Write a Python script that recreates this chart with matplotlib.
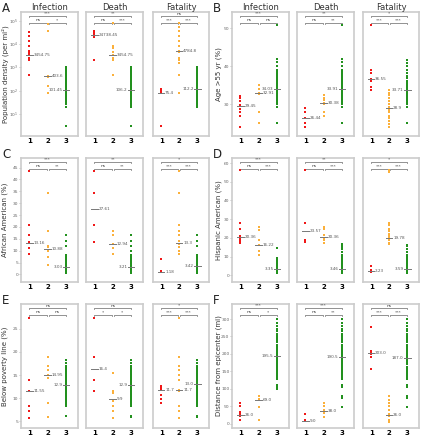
import matplotlib.pyplot as plt
from matplotlib.transforms import blended_transform_factory

# ---- data ----
groups = [1, 2, 3]
columns = ["Infection", "Death", "Fatality"]

# A: population density (per mi^2), log scale
a_inf = [[34600, 21700, 13500, 8300, 5000, 4270, 3450, 2570, 2040, 457],
         [72000, 37000, 410, 390, 160, 81],
         [1000, 850, 700, 600, 500, 450, 400, 350, 300, 280, 250, 220, 200, 180, 170,
          160, 150, 140, 130, 120, 110, 101, 95, 90, 85, 80, 75, 70, 65, 60, 55, 50,
          45, 40, 35, 30, 25, 20, 3]]
a_dea = [[38000, 30000, 24700, 21000, 2040],
         [79000, 8300, 6600, 4700, 3450, 2600, 2000, 460],
         [1000, 900, 750, 620, 520, 460, 400, 340, 300, 270, 240, 210, 190, 175, 160,
          150, 140, 130, 120, 112, 106, 100, 95, 88, 82, 76, 70, 64, 58, 52, 47, 42,
          37, 32, 27, 22, 19, 3]]
a_fat = [[120, 100, 87, 75, 3],
         [79000, 56000, 35000, 22000, 13500, 8300, 5000, 4780, 2600, 2000, 1480, 460, 78],
         [1000, 880, 720, 610, 520, 450, 390, 340, 300, 270, 240, 215, 195, 175, 160,
          148, 136, 125, 116, 112, 106, 100, 94, 88, 82, 76, 70, 64, 58, 52, 46, 41,
          36, 31, 26, 21, 19]]
a_means = [[3454.75, 403.6, 101.45], [24738.45, 3454.75, 106.2], [75.4, 4784.8, 112.2]]
a_sig = [["***", "ns", "*"], ["**", "ns", "***"], ["ns", "***", "***"]]

# B: age > 55 yr (%)
b_inf = [[32.2, 31.5, 30.9, 29.7, 29.4, 28.7, 27.8, 26.8, 24.1],
         [35.0, 33.9, 32.9, 32.6, 28.0, 25.0],
         [50.9, 41.8, 41.0, 40.0, 39.0, 38.5, 38.0, 37.5, 37.0, 36.5, 36.0, 35.5, 35.2,
          35.0, 34.7, 34.5, 34.2, 34.0, 33.8, 33.5, 33.2, 33.0, 32.7, 32.5, 32.2, 32.0,
          31.5, 31.0, 30.5, 30.0, 29.3, 25.0]]
b_dea = [[29.1, 27.8, 26.4, 25.0, 24.1],
         [32.3, 31.7, 31.1, 30.4, 30.0, 28.0, 26.8],
         [50.9, 41.8, 41.0, 40.0, 39.0, 38.5, 38.0, 37.5, 37.0, 36.5, 36.0, 35.5, 35.0,
          34.7, 34.4, 34.1, 33.9, 33.6, 33.3, 33.0, 32.7, 32.4, 32.0, 31.5, 31.0, 30.5,
          30.0, 29.3, 25.0]]
b_fat = [[50.9, 38.9, 38.1, 36.5, 36.0, 34.6, 33.7],
         [33.7, 33.0, 32.3, 31.5, 30.8, 30.0, 29.2, 28.9, 28.5, 27.8, 27.0, 26.3, 25.5,
          24.8, 24.1],
         [41.7, 40.8, 40.0, 39.0, 38.2, 37.5, 36.8, 36.0, 35.5, 35.0, 34.5, 34.0, 33.7,
          33.4, 33.0, 32.5, 32.0, 31.5, 31.0, 30.5, 30.0, 29.3, 25.0]]
b_means = [[29.45, 32.91, 34.03], [26.44, 30.38, 33.91], [36.55, 28.9, 33.71]]
b_sig = [["***", "ns", "ns"], ["**", "ns", "**"], ["*", "***", "***"]]

# C: African American (%)
c_inf = [[43.7, 20.8, 16.7, 13.5, 13.1, 11.1, 8.6],
         [34.3, 18.1, 12.1, 11.4, 10.0, 7.2, 3.75],
         [16.4, 14.0, 12.0, 8.0, 7.5, 7.0, 6.5, 6.0, 5.5, 5.0, 4.6, 4.2, 3.8, 3.5, 3.2,
          3.0, 2.8, 2.5, 2.2, 2.0, 1.8, 1.5, 1.2, 1.0, 0.8, 0.6]]
c_dea = [[43.7, 34.3, 20.8, 13.5],
         [18.1, 16.7, 12.8, 11.1, 8.6],
         [16.4, 14.0, 12.0, 10.0, 8.0, 7.2, 6.5, 6.0, 5.5, 5.0, 4.5, 4.0, 3.6, 3.2, 3.0,
          2.7, 2.4, 2.1, 1.8, 1.5, 1.2, 1.0, 0.8, 0.6]]
c_fat = [[6.5, 1.5, 1.2, 1.0],
         [43.7, 34.3, 20.8, 18.1, 16.7, 14.2, 12.8, 11.4, 10.0, 8.6],
         [16.4, 14.0, 12.0, 8.0, 7.4, 6.8, 6.2, 5.6, 5.0, 4.6, 4.2, 3.8, 3.4, 3.1, 2.8,
          2.5, 2.2, 1.9, 1.6, 1.3, 1.0, 0.8, 0.6]]
c_means = [[13.16, 10.88, 3.03], [27.61, 12.94, 3.21], [1.18, 13.3, 3.42]]
c_sig = [["***", "ns", "**"], ["**", "ns", "**"], ["*", "***", "***"]]

# D: Hispanic American (%)
d_inf = [[56.5, 28.0, 25.0, 21.0, 20.4, 19.5, 18.6, 17.7, 17.2],
         [25.8, 24.3, 18.6, 16.2, 13.0, 10.7],
         [14.7, 9.3, 8.5, 7.7, 7.0, 6.3, 5.7, 5.0, 4.5, 4.0, 3.6, 3.3, 3.0, 2.7, 2.4,
          2.1, 1.8, 1.5, 1.2]]
d_dea = [[56.5, 27.9, 19.0, 17.8],
         [25.8, 24.5, 21.3, 20.1, 18.6, 17.2],
         [16.9, 16.0, 15.0, 13.9, 12.4, 11.0, 9.5, 8.5, 7.5, 6.5, 5.8, 5.0, 4.5, 4.0,
          3.5, 3.0, 2.5, 2.0, 1.5, 1.2]]
d_fat = [[4.8, 2.7, 2.2, 1.8],
         [56.5, 55.0, 28.0, 26.7, 25.0, 23.6, 22.2, 20.8, 19.8, 18.6, 17.2, 16.5],
         [16.2, 15.5, 14.3, 12.4, 11.0, 9.5, 8.5, 7.5, 6.5, 5.8, 5.0, 4.5, 4.0, 3.6,
          3.0, 2.5, 2.0, 1.5, 1.2]]
d_means = [[20.36, 16.22, 3.35], [23.57, 20.36, 3.46], [2.23, 19.78, 3.59]]
d_sig = [["***", "ns", "***"], ["**", "ns", "***"], ["*", "***", "***"]]

# E: below poverty line (%)
e_inf = [[27.2, 13.9, 11.6, 11.5, 8.3, 7.2, 5.7],
         [18.8, 17.0, 16.1, 15.0, 14.3, 9.0, 5.9],
         [18.2, 17.6, 17.0, 16.6, 16.2, 15.8, 15.4, 15.0, 14.6, 14.2, 13.8, 13.4, 13.0,
          12.8, 12.5, 12.2, 11.8, 11.4, 11.0, 10.6, 10.2, 9.8, 9.4, 9.0, 8.6, 8.3, 6.2]]
e_dea = [[27.2, 18.8, 13.9, 11.6],
         [15.5, 11.5, 11.1, 9.5, 8.3, 7.2, 5.7],
         [18.2, 17.6, 17.0, 16.6, 16.2, 15.8, 15.4, 15.0, 14.6, 14.2, 13.8, 13.4, 13.0,
          12.8, 12.5, 12.2, 11.8, 11.4, 11.0, 10.6, 10.2, 9.8, 9.4, 9.0, 8.6, 8.3, 6.2,
          6.0]]
e_fat = [[12.7, 12.2, 11.7, 10.8, 9.9, 9.0],
         [27.2, 18.8, 17.0, 16.1, 15.0, 13.9, 11.8, 11.5, 8.3, 7.2, 5.7],
         [18.2, 17.6, 17.0, 16.6, 16.2, 15.8, 15.4, 15.0, 14.6, 14.2, 13.8, 13.4, 13.0,
          12.8, 12.5, 12.2, 11.8, 11.4, 11.0, 10.6, 10.2, 9.8, 9.4, 9.0, 8.6, 8.3, 6.2,
          6.0]]
e_means = [[11.55, 14.95, 12.9], [16.4, 9.9, 12.9], [11.7, 11.7, 13.0]]
e_sig = [["ns", "ns", "ns"], ["ns", "*", "*"], ["*", "***", "***"]]

# F: distance from epicenter (mi)
f_inf = [[58.6, 50, 35, 28, 26, 21, 9.5],
         [80.4, 71, 69, 49, 11],
         [300, 290, 280, 272, 265, 258, 250, 245, 240, 233, 227, 220, 215, 210, 205,
          200, 196, 192, 188, 183, 178, 172, 166, 160, 155, 150, 145, 140, 133, 127,
          110, 105, 99]]
f_dea = [[28.4, 10.5, 9.0, 8.0],
         [59.6, 50, 40.7, 38, 31.2, 20.8],
         [300, 290, 280, 272, 265, 258, 250, 245, 240, 233, 227, 220, 215, 210, 205,
          200, 194, 190, 185, 180, 174, 168, 162, 156, 150, 145, 140, 133, 127, 110,
          105, 80, 75, 47]]
f_fat = [[277, 208, 205, 203, 199, 190, 156],
         [78.5, 69, 59.6, 50, 40.7, 28.4, 26, 21, 11.4, 6.6],
         [300, 290, 280, 272, 265, 258, 250, 245, 240, 233, 227, 220, 215, 210, 205,
          200, 194, 187, 182, 176, 170, 164, 158, 152, 146, 140, 133, 127, 110, 105,
          80, 75, 47]]
f_means = [[26.0, 69.0, 195.5], [9.0, 38.0, 190.5], [203.0, 26.0, 187.0]]
f_sig = [["***", "ns", "*"], ["***", "ns", "**"], ["ns", "***", "***"]]

# ---- layout ----
W, H = 421, 440
fig = plt.figure(figsize=(W / 100, H / 100), dpi=100)
fig.patch.set_facecolor("white")

col_px = {"L": [(21, 78), (86, 143), (153, 209)],
          "R": [(232, 289), (297, 354), (363, 419)]}
row_px = [(12, 136), (158, 282), (304, 428)]
ylabel_px = {"L": 5, "R": 219}   # centre of the y label, figure pixels

colors = ["#f01818", "#fbb03b", "#22911e"]
frame_col = "#cccccc"
text_col = "#555555"

panels = [
    ("A", "L", 0, "Population density (per mi\u00b2)", (1.1, 2.4e5), True, None,
     [a_inf, a_dea, a_fat], a_means, a_sig),
    ("B", "R", 0, "Age >55 yr (%)", (21.6, 54.3), False, [30, 40, 50],
     [b_inf, b_dea, b_fat], b_means, b_sig),
    ("C", "L", 1, "African American (%)", (-3.2, 49), False, list(range(0, 50, 5)),
     [c_inf, c_dea, c_fat], c_means, c_sig),
    ("D", "R", 1, "Hispanic American (%)", (-3.6, 62.7), False, list(range(0, 70, 10)),
     [d_inf, d_dea, d_fat], d_means, d_sig),
    ("E", "L", 2, "Below poverty line (%)", (3.6, 30.3), False, [5, 10, 15, 20, 25],
     [e_inf, e_dea, e_fat], e_means, e_sig),
    ("F", "R", 2, "Distance from epicenter (mi)", (-12, 343), False,
     [0, 50, 100, 150, 200, 250, 300], [f_inf, f_dea, f_fat], f_means, f_sig),
]


def bracket(ax, x0, x1, y, label):
    tr = blended_transform_factory(ax.transData, ax.transAxes)
    ax.plot([x0, x0, x1, x1], [y - 0.012, y, y, y - 0.012], color="#666666",
            lw=0.5, transform=tr, clip_on=False)
    ax.text((x0 + x1) / 2, y + 0.002, label, transform=tr, ha="center", va="bottom",
            fontsize=3.2, color="#444444")


for letter, side, r, ylabel, ylim, logy, yticks, data, means, sigs in panels:
    top, bot = row_px[r]
    for c in range(3):
        x0, x1 = col_px[side][c]
        ax = fig.add_axes([x0 / W, 1 - bot / H, (x1 - x0) / W, (bot - top) / H])
        for g in range(3):
            ax.scatter([groups[g]] * len(data[c][g]), data[c][g], s=3, marker="s",
                       color=colors[g], linewidths=0, zorder=3)
            m = means[c][g]
            ax.plot([groups[g] - 0.18, groups[g] + 0.18], [m, m], color="#777777",
                    lw=0.7, zorder=4)
            if g < 2:
                ax.text(groups[g] + 0.22, m, str(m), fontsize=3, color=text_col,
                        ha="left", va="center", zorder=5)
            else:
                ax.text(groups[g] - 0.2, m, str(m), fontsize=3, color=text_col,
                        ha="right", va="center", zorder=5)
        if logy:
            ax.set_yscale("log")
            ax.minorticks_off()
        ax.set_ylim(*ylim)
        ax.set_xlim(0.55, 3.65)
        if yticks is not None:
            ax.set_yticks(yticks)
        ax.set_xticks(groups)
        ax.set_xticklabels(["1", "2", "3"], fontsize=5, fontweight="bold")
        ax.tick_params(axis="x", length=0, pad=1.5)
        ax.tick_params(axis="y", labelsize=3.2, labelcolor="#666666", color="#999999",
                       length=1.2, width=0.4, pad=0.6)
        if c > 0:
            ax.tick_params(axis="y", labelleft=False, left=False)
        else:
            ax.set_ylabel(ylabel, fontsize=5.0, color="#333333", va="center")
            ax.yaxis.set_label_coords((ylabel_px[side] - x0) / (x1 - x0), 0.5)
        for sp in ax.spines.values():
            sp.set_color(frame_col)
            sp.set_linewidth(1.2)
        if r == 0:
            ax.set_title(columns[c], fontsize=6, color="#333333", pad=1.5)
        bracket(ax, 1, 3, 0.968, sigs[c][0])
        bracket(ax, 1, 1.95, 0.915, sigs[c][1])
        bracket(ax, 2.05, 3, 0.915, sigs[c][2])
    lx = 2 if side == "L" else 213
    fig.text(lx / W, 1 - (top - 10) / H, letter, fontsize=8.5, va="top", ha="left",
             color="#222222")

fig.savefig("out.png", dpi=100)
